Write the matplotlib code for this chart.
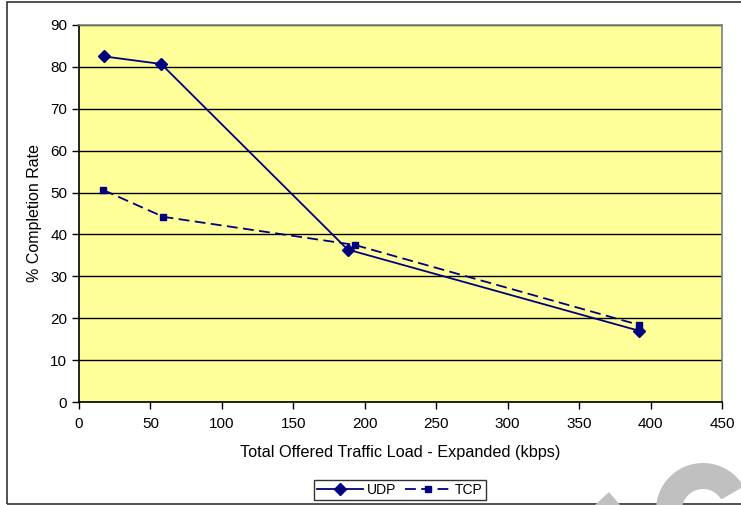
import matplotlib.pyplot as plt
from matplotlib.patches import Rectangle, Wedge, Polygon

plt.rcParams['font.family'] = ['Liberation Sans', 'DejaVu Sans']

# data
udp_x = [17.5, 57.5, 188, 392]
udp_y = [82.5, 80.7, 36.4, 17.0]
tcp_x = [17, 59, 193, 392]
tcp_y = [50.6, 44.2, 37.5, 18.4]

xticks = [0, 50, 100, 150, 200, 250, 300, 350, 400, 450]
yticks = [0, 10, 20, 30, 40, 50, 60, 70, 80, 90]

navy = '#000080'

fig = plt.figure(figsize=(7.41, 5.05), dpi=100)
ax = fig.add_axes([79/741, 1 - 402/505, (722 - 79)/741, (402 - 25)/505])
ax.set_facecolor('#FFFF99')

# outer frame of the chart
fig.patches.append(Rectangle((7/741, 1/505), 1.0, 502/505, transform=fig.transFigure,
                             fill=False, edgecolor='#333333', linewidth=1.2))

ax.plot(udp_x, udp_y, color=navy, linewidth=1.3, marker='D', markersize=6.5, label='UDP')
ax.plot(tcp_x, tcp_y, color=navy, linewidth=1.3, linestyle=(0, (6, 3)),
        marker='s', markersize=5, label='TCP')

ax.set_xlim(0, 450)
ax.set_ylim(0, 90)
ax.set_xticks(xticks)
ax.set_yticks(yticks)
ax.tick_params(direction='out', length=5, width=1, labelsize=11, color='black')
ax.tick_params(axis='x', pad=6)
ax.grid(axis='y', color='black', linewidth=1)
ax.set_axisbelow(True)

ax.spines['left'].set_color('black')
ax.spines['bottom'].set_color('black')
ax.spines['top'].set_color('#808080')
ax.spines['right'].set_color('#808080')
for s in ax.spines.values():
    s.set_linewidth(1.2)

ax.set_xlabel('Total Offered Traffic Load - Expanded (kbps)', fontsize=11.7, labelpad=10)
ax.set_ylabel('% Completion Rate', fontsize=11.5, labelpad=6)

leg = fig.legend(loc='center', bbox_to_anchor=(400/741, 1 - 490/505), ncol=2,
                 fontsize=10, frameon=True, fancybox=False, borderpad=0.2,
                 handlelength=3.3, columnspacing=0.6, handletextpad=0.3)
leg.get_frame().set_edgecolor('black')
leg.get_frame().set_linewidth(1)

# grey watermark pieces at the bottom right (in inches so the ring stays round)
fig.patches.append(Wedge((7.03, 5.05 - 5.10), 0.47, 30, 200, width=0.26,
                         transform=fig.dpi_scale_trans, facecolor='#C0C0C0', edgecolor='none'))
fig.patches.append(Polygon([(595/741, 0), (609/741, 1 - 492/505), (620/741, 0)],
                           closed=True, transform=fig.transFigure,
                           facecolor='#C0C0C0', edgecolor='none'))

fig.savefig('out.png', dpi=100)
